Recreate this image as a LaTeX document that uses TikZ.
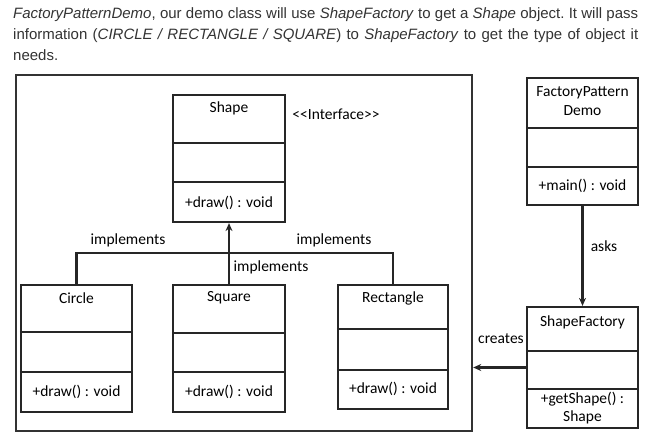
\documentclass[tikz,border=0pt]{standalone}
\usepackage{fontspec}
\setmainfont{Carlito}
\newfontfamily\headfont{Liberation Sans}
\usepackage{tikz}
\usetikzlibrary{arrows.meta, positioning}

\begin{document}
\begin{tikzpicture}[x=1pt, y=-1pt,
    box/.style={rectangle, draw=black!85, line width=2.2pt, inner sep=0pt},
    frame/.style={rectangle, draw=black!80, line width=2.4pt, minimum width=456, minimum height=356, inner sep=0pt},
    title/.style={font=\fontsize{15.5}{19}\selectfont, align=center, inner sep=1pt},
    method/.style={font=\fontsize{15.5}{19}\selectfont, align=center, inner sep=1pt},
    lbl/.style={font=\fontsize{15.5}{19}\selectfont, inner sep=1pt},
    divider/.style={draw=black!85, line width=2.2pt},
    edge/.style={draw=black!85, line width=2.2pt},
    arr/.style={edge, -{Stealth[length=8pt, width=7pt]}}
    ]
    \useasboundingbox (0,0) rectangle (649,439);

    % text above
    \node[anchor=north west, align=left, inner sep=0pt, text=black!80,
          font=\headfont\fontsize{15}{21}\selectfont\frenchspacing] (intro) at (13,7)
        {\hbox to 625pt{\textit{FactoryPatternDemo}, our demo class will use \textit{ShapeFactory} to get a \textit{Shape} object. It will pass}\\
         \hbox to 625pt{information (\textit{CIRCLE / RECTANGLE / SQUARE}) to \textit{ShapeFactory} to get the type of object it}\\
         needs.};

    % frame
    \node[frame] (frame) at (244,253) {};

    % classes
    \node[box, minimum width=112, minimum height=127] (shape) at (229,158.5) {};
    \node[box, minimum width=111, minimum height=127] (circle) at (76.5,348.5) {};
    \node[box, minimum width=112, minimum height=127] (square) at (229,348.5) {};
    \node[box, minimum width=110, minimum height=124] (rect) at (393,347) {};
    \node[box, minimum width=111, minimum height=127] (demo) at (582.5,141.5) {};
    \node[box, minimum width=111, minimum height=121] (factory) at (582.5,367.5) {};

    \draw[divider] (shape.west |- 0,143) -- (shape.east |- 0,143);
    \draw[divider] (shape.west |- 0,182) -- (shape.east |- 0,182);
    \draw[divider] (circle.west |- 0,332) -- (circle.east |- 0,332);
    \draw[divider] (circle.west |- 0,372) -- (circle.east |- 0,372);
    \draw[divider] (square.west |- 0,333) -- (square.east |- 0,333);
    \draw[divider] (square.west |- 0,372) -- (square.east |- 0,372);
    \draw[divider] (rect.west |- 0,329) -- (rect.east |- 0,329);
    \draw[divider] (rect.west |- 0,370) -- (rect.east |- 0,370);
    \draw[divider] (demo.west |- 0,128) -- (demo.east |- 0,128);
    \draw[divider] (demo.west |- 0,167) -- (demo.east |- 0,167);
    \draw[divider] (factory.west |- 0,351) -- (factory.east |- 0,351);
    \draw[divider] (factory.west |- 0,389) -- (factory.east |- 0,389);

    \node[title] (shapeName) at (229,108) {Shape};
    \node[title] (circleName) at (76.5,298) {Circle};
    \node[title] (squareName) at (229,298) {Square};
    \node[title] (rectName) at (393,298) {Rectangle};
    \node[title, font=\fontsize{15.5}{19}\selectfont] (demoName) at (582.5,101.5) {FactoryPattern\\Demo};
    \node[title] (factoryName) at (582.5,322) {ShapeFactory};

    \node[method] (shapeDraw) at (229,203) {+draw() : void};
    \node[method] (circleDraw) at (76.5,392) {+draw() : void};
    \node[method] (squareDraw) at (229,392) {+draw() : void};
    \node[method] (rectDraw) at (393,389) {+draw() : void};
    \node[method] (demoMain) at (582.5,186) {+main() : void};
    \node[method, font=\fontsize{15.5}{18}\selectfont] (factoryGet) at (582.5,408) {+getShape() :\\Shape};

    \node[lbl] (stereo) at (336,114) {<{}<Interface>{}>};

    % connectors
    \coordinate (joint) at (229,253);
    \draw[edge] (circle.north) |- (joint) -| (rect.north);
    \draw[arr] (square.north) -- (shape.south);
    \draw[arr] (demo.south) -- (factory.north);
    \draw[arr] (factory.west) -- (frame.east |- factory.west);

    \node[lbl] (implLeft) at (128,240) {implements};
    \node[lbl] (implRight) at (334,240) {implements};
    \node[lbl] (implMid) at (271,267) {implements};
    \node[lbl] (asks) at (604,246) {asks};
    \node[lbl] (creates) at (501,339) {creates};
\end{tikzpicture}
\end{document}
